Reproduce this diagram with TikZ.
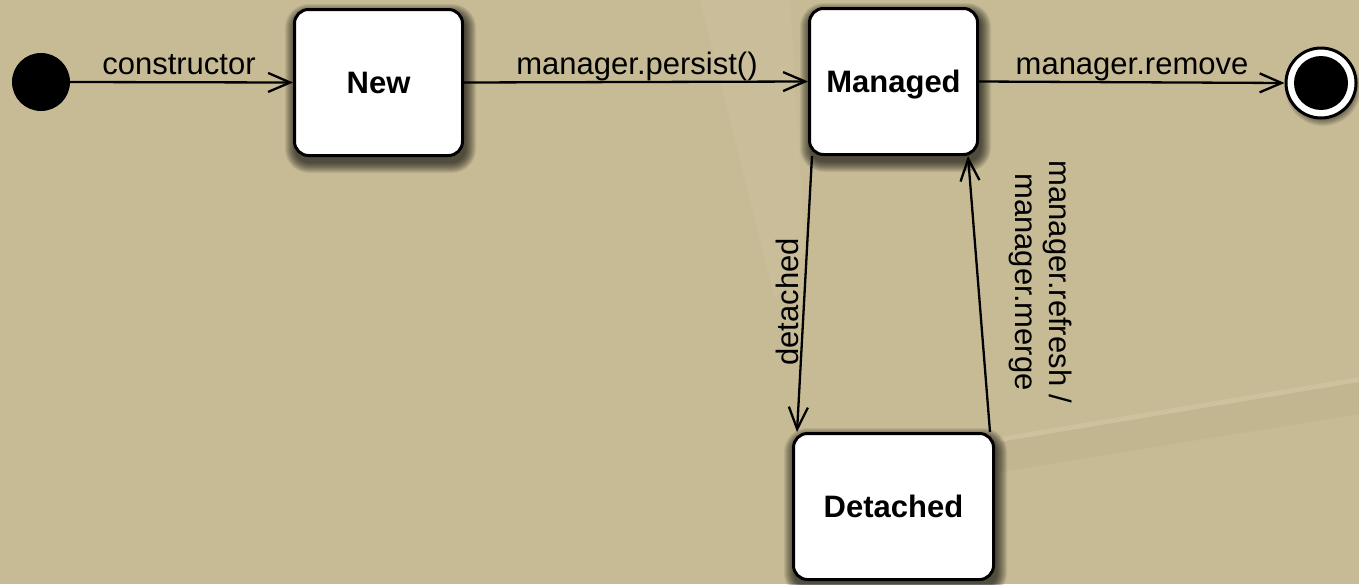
\documentclass[tikz,border=0pt]{standalone}
\usepackage{fontspec}
\setmainfont{Liberation Sans}
\usetikzlibrary{arrows.meta}

\definecolor{paper}{RGB}{199,187,150}
\definecolor{paperdark}{RGB}{160,146,110}
\definecolor{paperlight}{RGB}{232,222,192}

\pgfdeclarelayer{paperlayer}
\pgfdeclarelayer{shadowlayer}
\pgfdeclarelayer{edges}
\pgfsetlayers{paperlayer,shadowlayer,edges,main}

% soft shadow under a rounded state box, built from stacked translucent outlines
\newcommand{\boxshadow}[1]{%
  \foreach \g in {0,1,...,10}{%
    \fill[black,opacity=0.075,rounded corners={14pt+\g pt}]
      ([shift={(2pt-\g pt,-6pt+\g pt)}]#1.north west) rectangle
      ([shift={(2pt+\g pt,-6pt-\g pt)}]#1.south east);
  }}
\newcommand{\roundshadow}[2]{%
  \foreach \g in {0,1,...,8}{%
    \fill[black,opacity=0.07] ([shift={(2pt,-5pt)}]#1.center) circle ({#2+\g pt});
  }}

\begin{document}
\begin{tikzpicture}[x=1pt,y=-1pt,
  state/.style={draw,line width=3pt,fill=white,rounded corners=14pt,
    minimum width=168pt,minimum height=146pt,inner sep=0pt,
    text height=25pt,text depth=3pt,
    font=\fontsize{31}{34}\selectfont\bfseries},
  pseudo/.style={circle,inner sep=0pt},
  trans/.style={line width=2.3pt,-{Straight Barb[length=22pt,width=19pt]}},
  lbl/.style={font=\fontsize{31}{34}\selectfont,inner sep=0pt},
]
% cardboard backdrop
\begin{pgfonlayer}{paperlayer}
  \fill[paper] (0,0) rectangle (1359,584);
  \fill[paperlight,opacity=0.10] (700,0) -- (790,0) -- (805,250) -- (775,300) -- cycle;
  \fill[paperlight,opacity=0.20] (1000,437) -- (1359,377) -- (1359,382) -- (1000,442) -- cycle;
  \fill[paperdark,opacity=0.12] (1000,442) -- (1359,382) -- (1359,414) -- (1000,472) -- cycle;
\end{pgfonlayer}
\useasboundingbox (0,0) rectangle (1359,584);

% states
\node[pseudo,fill=black,minimum size=58pt] (init) at (41,82) {};
\node[state] (new) at (378.5,82.5) {New};
\node[state] (managed) at (893.5,81.5) {Managed};
\node[state,minimum width=200pt] (detached) at (893.5,506.5) {Detached};
\node[pseudo,draw,line width=3pt,fill=white,minimum size=70pt] (final) at (1321,83) {};
\node[pseudo,fill=black,minimum size=54pt] (finalcore) at (final.center) {};

\begin{pgfonlayer}{shadowlayer}
  \boxshadow{new}
  \boxshadow{managed}
  \boxshadow{detached}
  \roundshadow{final}{30pt}
\end{pgfonlayer}

% transitions
\begin{pgfonlayer}{edges}
  \draw[trans] (init.east) -- (new.west);
  \draw[trans] (new.east) -- (managed.west);
  \draw[trans] (managed.east) -- (final.west);
  \draw[trans] ([xshift=4pt]managed.south west) -- ([xshift=5pt]detached.north west);
  \draw[trans] ([xshift=-5pt]detached.north east) -- ([xshift=-11pt]managed.south east);
\end{pgfonlayer}

% transition labels
\node[lbl,anchor=base] (lconstructor) at (179,74) {constructor};
\node[lbl,anchor=base] (lpersist) at (637,74) {manager.persist()};
\node[lbl,anchor=base] (lremove) at (1132,74) {manager.remove};
\node[lbl,rotate=90] (ldetached) at (787,302) {detached};
\node[lbl,rotate=-90,align=center] (lrefresh) at (1041,282) {manager.refresh /\\manager.merge};
\end{tikzpicture}
\end{document}
